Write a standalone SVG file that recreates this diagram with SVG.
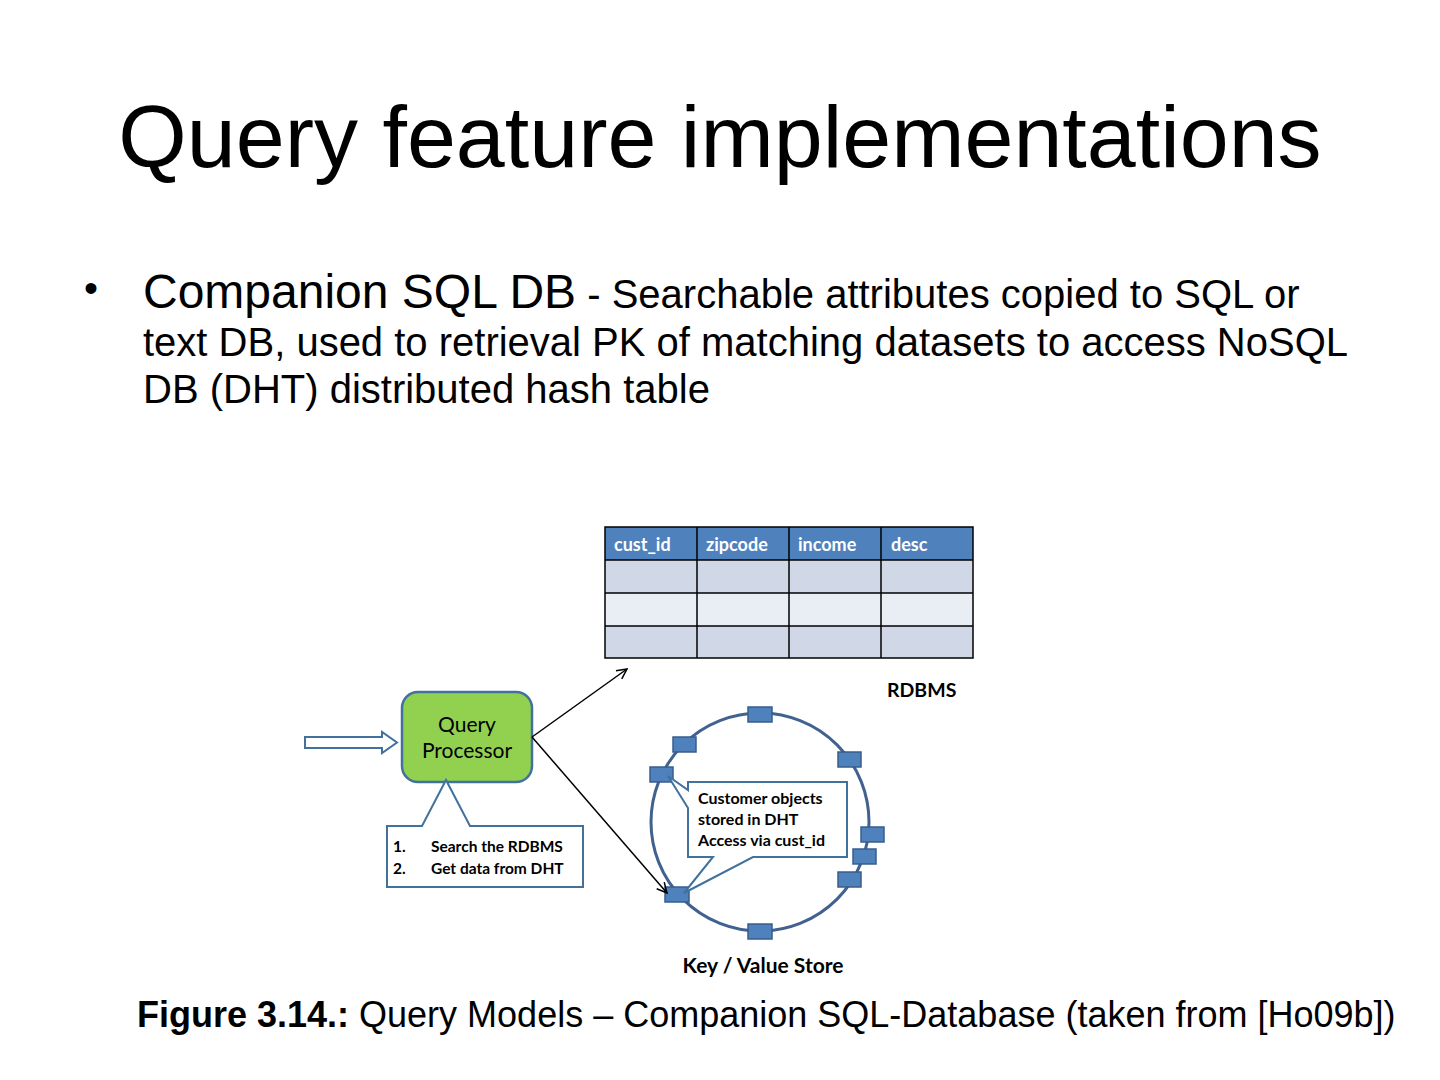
<svg xmlns="http://www.w3.org/2000/svg" width="1440" height="1080" viewBox="0 0 1440 1080">
<defs>
<marker id="arr" viewBox="0 0 12 12" refX="11" refY="6" markerWidth="12" markerHeight="12" markerUnits="userSpaceOnUse" orient="auto">
<path d="M1,1 L11,6 L1,11" fill="none" stroke="#000" stroke-width="1.5"/>
</marker>
<style>
.sans{font-family:"Liberation Sans",Arial,sans-serif;fill:#000}
.cal{font-family:Lato,"Open Sans",sans-serif;fill:#000}
.b{font-weight:bold}
.hdr{font-family:Lato,"Open Sans",sans-serif;font-weight:bold;font-size:18px;fill:#fff}
.node{fill:#4F81BD;stroke:#385D8A;stroke-width:1.5}
.grid{stroke:#000;stroke-width:1.5;fill:none}
.conn{stroke:#000;stroke-width:1.5;fill:none}
.call{fill:#fff;stroke:#41719C;stroke-width:2;stroke-linejoin:miter}
</style>
</defs>
<rect width="1440" height="1080" fill="#fff"/>

<g id="title">
<text class="sans" x="720" y="167" font-size="88" text-anchor="middle">Query feature implementations</text>
</g>

<g id="bullet">
<text class="sans" x="84" y="302" font-size="40">•</text>
<text class="sans" x="143" y="308" font-size="48">Companion SQL DB<tspan font-size="40"> - Searchable attributes copied to SQL or</tspan></text>
<text class="sans" x="143" y="356" font-size="40">text DB, used to retrieval PK of matching datasets to access NoSQL</text>
<text class="sans" x="143" y="403" font-size="40">DB (DHT) distributed hash table</text>
</g>

<g id="rdbms-table">
<rect x="605" y="527" width="368" height="33" fill="#4F81BD"/>
<rect x="605" y="560" width="368" height="33" fill="#D0D8E8"/>
<rect x="605" y="593" width="368" height="33" fill="#E9EDF4"/>
<rect x="605" y="626" width="368" height="32" fill="#D0D8E8"/>
<path class="grid" d="M605,527 H973 V658 H605 Z M605,560 H973 M605,593 H973 M605,626 H973 M697,527 V658 M789,527 V658 M881,527 V658"/>
<text class="hdr" x="614" y="551">cust_id</text>
<text class="hdr" x="706" y="551">zipcode</text>
<text class="hdr" x="798" y="551">income</text>
<text class="hdr" x="891" y="551">desc</text>
<text class="cal b" x="887" y="697" font-size="19.5">RDBMS</text>
</g>

<g id="query-processor">
<rect x="402" y="692" width="130" height="90" rx="16" ry="16" fill="#92D050" stroke="#41719C" stroke-width="2.5"/>
<text class="cal" x="467" y="732" font-size="21" text-anchor="middle">Query</text>
<text class="cal" x="467" y="758" font-size="21" text-anchor="middle">Processor</text>
</g>

<g id="qp-callout">
<path class="call" d="M387,826 L422,826 L446,780 L470,826 L583,826 L583,887 L387,887 Z"/>
<text class="cal b" x="393" y="852" font-size="15.5">1.</text>
<text class="cal b" x="431" y="852" font-size="15.5">Search the RDBMS</text>
<text class="cal b" x="393" y="874" font-size="15.5">2.</text>
<text class="cal b" x="431" y="874" font-size="15.5">Get data from DHT</text>
</g>

<g id="input-arrow">
<path d="M305,737 L382,737 L382,732 L397,742.5 L382,753 L382,748 L305,748 Z" fill="#fff" stroke="#41719C" stroke-width="2"/>
</g>

<g id="dht-ring">
<ellipse cx="760" cy="822" rx="109" ry="109" fill="none" stroke="#41618F" stroke-width="3"/>
</g>

<g id="dht-nodes">
<rect class="node" x="748" y="707" width="24" height="15"/>
<rect class="node" x="673" y="737" width="23" height="15"/>
<rect class="node" x="838" y="752" width="23" height="15"/>
<rect class="node" x="650" y="767" width="23" height="15"/>
<rect class="node" x="861" y="827" width="23" height="15"/>
<rect class="node" x="853" y="849" width="23" height="15"/>
<rect class="node" x="838" y="872" width="23" height="15"/>
<rect class="node" x="665" y="887" width="24" height="15"/>
<rect class="node" x="748" y="924" width="24" height="15"/>
</g>

<g id="dht-callout">
<path class="call" d="M688,782 L847,782 L847,857 L753,857 L684,893 L713,857 L688,857 L688,808 L668,776 L688,790 Z"/>
<text class="cal b" x="698" y="804" font-size="16">Customer objects</text>
<text class="cal b" x="698" y="825" font-size="16">stored in DHT</text>
<text class="cal b" x="698" y="846" font-size="16">Access via cust_id</text>
</g>

<g id="dht-label">
<text class="cal b" x="763" y="973" font-size="21" text-anchor="middle">Key / Value Store</text>
</g>

<g id="connectors">
<line class="conn" x1="532" y1="737" x2="627" y2="669" marker-end="url(#arr)"/>
<line class="conn" x1="532" y1="737" x2="667" y2="893" marker-end="url(#arr)"/>
</g>

<g id="caption">
<text class="sans" x="137" y="1027" font-size="36"><tspan font-weight="bold">Figure 3.14.:</tspan> Query Models – Companion SQL-Database (taken from [Ho09b])</text>
</g>
</svg>
